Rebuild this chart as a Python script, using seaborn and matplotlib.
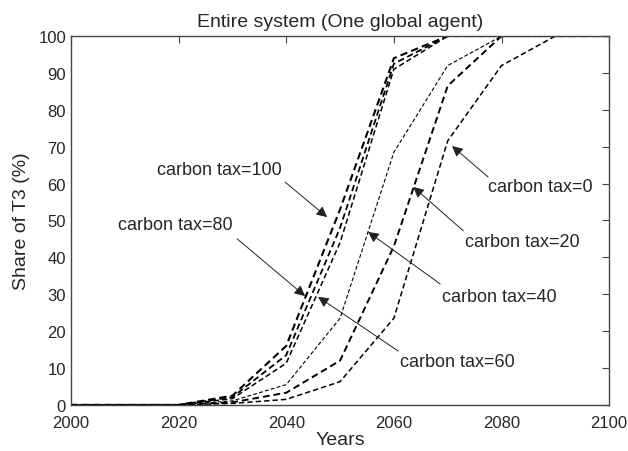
import matplotlib
matplotlib.use("Agg")
import matplotlib.pyplot as plt
import numpy as np
import pandas as pd
import seaborn as sns

years = [2000, 2010, 2020, 2030, 2040, 2050, 2060, 2070, 2080, 2090, 2100]
taxes = [100, 80, 60, 40, 20, 0]
share_tax100 = [0, 0, 0, 2.5, 16.0, 53.0, 94.0, 100, 100, 100, 100]
share_tax80 = [0, 0, 0, 2.1, 13.5, 48.0, 92.5, 100, 100, 100, 100]
share_tax60 = [0, 0, 0, 1.7, 11.3, 44.0, 91.0, 100, 100, 100, 100]
share_tax40 = [0, 0, 0, 1.1, 5.5, 23.5, 68.5, 92.0, 100, 100, 100]
share_tax20 = [0, 0, 0, 0.7, 3.3, 12.0, 43.0, 86.5, 100, 100, 100]
share_tax0 = [0, 0, 0, 0.4, 1.5, 6.3, 23.5, 71.6, 92.0, 100, 100]

df = pd.DataFrame({
    "year": years * 6,
    "share": share_tax100 + share_tax80 + share_tax60 + share_tax40 + share_tax20 + share_tax0,
    "tax": np.repeat(taxes, len(years)),
})

sns.set_style("white")
plt.rcParams["font.family"] = ["Liberation Sans", "DejaVu Sans"]

fig = plt.figure(figsize=(6.28, 4.52), dpi=100)
ax = fig.add_axes([0.113, 0.102, 0.857, 0.816])

widths = {100: 1.5, 80: 1.3, 60: 1.1, 40: 0.8, 20: 1.4, 0: 1.1}
for t in taxes:
    d = df[df["tax"] == t]
    sns.lineplot(data=d, x="year", y="share", color="black", lw=widths[t],
                 linestyle=(0, (3.5, 2)), ax=ax)

# annotations (text left/center, arrow start, arrow tip)
notes = [
    ("carbon tax=100", (2016.0, 63.7), (2039.8, 60.4), (2047.6, 50.9)),
    ("carbon tax=80", (2008.7, 48.8), (2030.9, 45.0), (2043.5, 29.5)),
    ("carbon tax=60", (2061.2, 11.7), (2060.8, 14.6), (2045.9, 29.3)),
    ("carbon tax=40", (2069.0, 29.3), (2068.6, 32.8), (2055.2, 46.9)),
    ("carbon tax=20", (2073.2, 44.2), (2072.9, 47.2), (2063.6, 59.1)),
    ("carbon tax=0", (2077.5, 59.1), (2077.5, 61.8), (2070.8, 70.2)),
]
for label, tpos, start, tip in notes:
    ax.text(tpos[0], tpos[1], label, ha="left", va="center", fontsize=13)
    ax.annotate("", xy=tip, xytext=start,
                arrowprops=dict(arrowstyle="-|>", color="#222222", lw=0.7,
                                mutation_scale=16, shrinkA=0, shrinkB=0))

ax.set_xlim(2000, 2100)
ax.set_ylim(0, 100)
ax.set_xticks(range(2000, 2101, 20))
ax.set_yticks(range(0, 101, 10))
ax.tick_params(direction="in", length=5, top=True, right=True, labelsize=12,
               color="#444444")
ax.tick_params(axis="x", pad=7)
for s in ax.spines.values():
    s.set_color("#444444")
    s.set_linewidth(1.0)
ax.set_xlabel("Years", fontsize=14, labelpad=1)
ax.set_ylabel("Share of T3 (%)", fontsize=14, labelpad=6)
ax.set_title("Entire system (One global agent)", fontsize=14, pad=7)

fig.savefig("out.png", dpi=100)
